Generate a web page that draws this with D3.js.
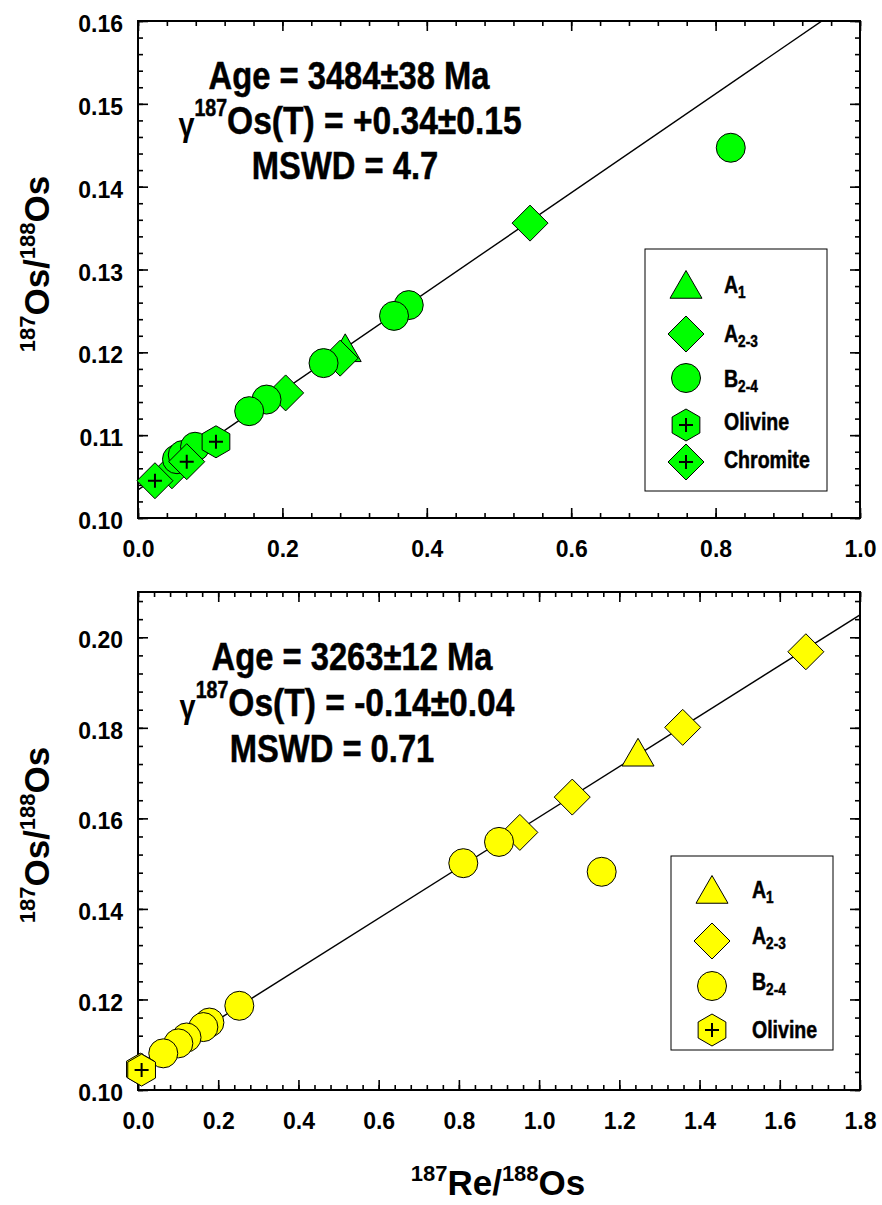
<!DOCTYPE html>
<html>
<head>
<meta charset="utf-8">
<script src="https://cdn.jsdelivr.net/npm/d3@7"></script>
<style>
  body { margin: 0; background: #fff; }
  svg { display: block; }
  text { font-family: "Liberation Sans", Arial, Helvetica, sans-serif; font-weight: bold; white-space: pre; }
</style>
</head>
<body>
<svg id="chart" width="882" height="1205"></svg>
<script>
// ---- Upper panel: 187Re/188Os vs 187Os/188Os, [x, y] pairs ----
const upperA1       = [[0.287, 0.1200]];
const upperA23      = [[0.543, 0.1356], [0.280, 0.1193], [0.2045, 0.1151], [0.047, 0.1057]];
const upperB24      = [[0.821, 0.1447], [0.375, 0.1257], [0.3546, 0.1244], [0.257, 0.1187],
                       [0.178, 0.1143], [0.154, 0.1129], [0.054, 0.1071], [0.062, 0.1076], [0.079, 0.1086]];
const upperOlivine  = [[0.108, 0.1092]];
const upperChromite = [[0.0235, 0.1045], [0.0675, 0.1068]];
const upperAgeMa    = 3484;     // isochron age
const upperInitial  = 0.1034;   // initial 187Os/188Os
const upperXTicks   = [0.0, 0.2, 0.4, 0.6, 0.8, 1.0];
const upperYTicks   = [0.10, 0.11, 0.12, 0.13, 0.14, 0.15, 0.16];

// ---- Lower panel ----
const lowerA1      = [[1.2466, 0.1736]];
const lowerA23     = [[1.665, 0.1968], [1.358, 0.1801], [1.0826, 0.1647], [0.952, 0.1569]];
const lowerB24     = [[0.900, 0.1548], [0.811, 0.1501], [1.156, 0.1482], [0.2526, 0.1186],
                      [0.178, 0.1149], [0.163, 0.1139], [0.121, 0.1116], [0.1006, 0.1103], [0.063, 0.1081]];
const lowerOlivine = [[0.006, 0.1046], [0.009, 0.1044]];
const lowerAgeMa   = 3263;
const lowerInitial = 0.1044;
const lowerXTicks  = [0.0, 0.2, 0.4, 0.6, 0.8, 1.0, 1.2, 1.4, 1.6, 1.8];
const lowerYTicks  = [0.10, 0.12, 0.14, 0.16, 0.18, 0.20];

// ---- Text ----
const upperAgeText   = "Age = 3484±38 Ma";
const upperGammaText = "Os(T) = +0.34±0.15";
const upperMswdText  = "MSWD = 4.7";
const lowerAgeText   = "Age = 3263±12 Ma";
const lowerGammaText = "Os(T) = -0.14±0.04";
const lowerMswdText  = "MSWD = 0.71";

const LAMBDA_RE187 = 1.666e-11; // per year

const svg = d3.select("#chart");
svg.append("rect").attr("width", 882).attr("height", 1205).attr("fill", "#fff");

const NARROW = 0.85;

// Lays out runs of text (with super/subscripts) one after another.
function richText(parent, runs, x, y, anchor = "middle", rotate = 0) {
  const g = parent.append("g").attr("transform", `translate(${x},${y}) rotate(${rotate})`);
  const inner = g.append("g");
  let cursor = 0;
  runs.forEach(r => {
    const sx = r.sx ?? 1;
    const t = inner.append("text")
      .attr("transform", `translate(${cursor},${r.dy || 0}) scale(${sx},1)`)
      .attr("font-size", r.size)
      .attr("font-weight", r.weight || "bold")
      .attr("fill", "#000")
      .text(r.t);
    // condensed runs get a hairline stroke to keep their weight
    if (sx < 1 && (r.weight || "bold") === "bold") t.attr("stroke", "#000").attr("stroke-width", 0.5);
    cursor += t.node().getComputedTextLength() * sx;
  });
  if (anchor === "middle") inner.attr("transform", `translate(${-cursor / 2},0)`);
  return g;
}

// Marker shapes
const shapes = {
  triangle: () => { const s = 32, h = s * Math.sqrt(3) / 2;
    return `M0,${-2 * h / 3}L${s / 2},${h / 3}L${-s / 2},${h / 3}Z`; },
  diamond: () => { const r = 18; return `M0,${-r}L${r},0L0,${r}L${-r},0Z`; },
  hexagon: () => { const R = 16; return d3.range(6).map(k => {
      const a = (-90 + 60 * k) * Math.PI / 180;
      return (k ? "L" : "M") + (R * Math.cos(a)).toFixed(2) + "," + (R * Math.sin(a)).toFixed(2);
    }).join("") + "Z"; }
};

function drawMarker(g, kind, cx, cy, fill) {
  const m = g.append("g").attr("transform", `translate(${cx},${cy})`);
  if (kind === "circle") {
    m.append("circle").attr("r", 14.5).attr("fill", fill).attr("stroke", "#000").attr("stroke-width", 1);
  } else {
    const shape = kind === "chromite" ? "diamond" : kind === "olivine" ? "hexagon" : kind;
    m.append("path").attr("d", shapes[shape]()).attr("fill", fill).attr("stroke", "#000").attr("stroke-width", 1);
    if (kind === "chromite" || kind === "olivine") {
      m.append("path").attr("d", "M-7,0H7M0,-7V7").attr("stroke", "#000").attr("stroke-width", 2);
    }
  }
}

function drawPanel(cfg) {
  const { top, bottom, left, right } = cfg;
  const x = d3.scaleLinear().domain(cfg.xDomain).range([left, right]);
  const y = d3.scaleLinear().domain(cfg.yDomain).range([bottom, top]);
  const g = svg.append("g");

  const clipId = "clip" + cfg.id;
  g.append("clipPath").attr("id", clipId)
    .append("rect").attr("x", left).attr("y", top).attr("width", right - left).attr("height", bottom - top);

  // Isochron line: slope = exp(lambda * t) - 1
  const slope = Math.expm1(LAMBDA_RE187 * cfg.ageMa * 1e6);
  const lineData = cfg.xDomain.map(v => [v, cfg.initial + slope * v]);
  g.append("path")
    .attr("clip-path", `url(#${clipId})`)
    .attr("d", d3.line().x(d => x(d[0])).y(d => y(d[1]))(lineData))
    .attr("fill", "none").attr("stroke", "#000").attr("stroke-width", 1.4);

  // Axes: ticks point inward on all four sides
  const xMinor = d3.range(cfg.xDomain[0], cfg.xDomain[1] + 1e-9, cfg.xMinorStep);
  const yMinor = d3.range(cfg.yDomain[0], cfg.yDomain[1] + 1e-9, cfg.yMinorStep);
  const styleAxis = sel => { sel.select(".domain").remove();
    sel.selectAll(".tick line").attr("stroke", "#000").attr("stroke-width", 1.6); };

  g.append("g").attr("transform", `translate(0,${bottom})`)
    .call(d3.axisBottom(x).tickValues(xMinor).tickSize(-5).tickFormat("")).call(styleAxis);
  g.append("g").attr("transform", `translate(0,${top})`)
    .call(d3.axisTop(x).tickValues(xMinor).tickSize(-5).tickFormat("")).call(styleAxis);
  g.append("g").attr("transform", `translate(${left},0)`)
    .call(d3.axisLeft(y).tickValues(yMinor).tickSize(-5).tickFormat("")).call(styleAxis);
  g.append("g").attr("transform", `translate(${right},0)`)
    .call(d3.axisRight(y).tickValues(yMinor).tickSize(-5).tickFormat("")).call(styleAxis);

  const xAx = g.append("g").attr("transform", `translate(0,${bottom})`)
    .call(d3.axisBottom(x).tickValues(cfg.xTicks).tickSize(-10).tickFormat(d3.format(".1f"))).call(styleAxis);
  xAx.selectAll("text").attr("y", 39).attr("dy", null)
    .attr("font-size", 23).attr("font-family", "Liberation Sans, Arial, sans-serif").attr("font-weight", "bold").attr("fill", "#000");
  g.append("g").attr("transform", `translate(0,${top})`)
    .call(d3.axisTop(x).tickValues(cfg.xTicks).tickSize(-10).tickFormat("")).call(styleAxis);

  const yAx = g.append("g").attr("transform", `translate(${left},0)`)
    .call(d3.axisLeft(y).tickValues(cfg.yTicks).tickSize(-10).tickFormat(d3.format(".2f"))).call(styleAxis);
  yAx.selectAll("text").attr("x", -15).attr("dy", "0.46em")
    .attr("font-size", 23).attr("font-family", "Liberation Sans, Arial, sans-serif").attr("font-weight", "bold").attr("fill", "#000");
  g.append("g").attr("transform", `translate(${right},0)`)
    .call(d3.axisRight(y).tickValues(cfg.yTicks).tickSize(-10).tickFormat("")).call(styleAxis);

  // Frame
  g.append("rect").attr("x", left).attr("y", top).attr("width", right - left).attr("height", bottom - top)
    .attr("fill", "none").attr("stroke", "#000").attr("stroke-width", 2);

  // Data points (drawn over the frame, as plotted symbols)
  const pts = g.append("g");
  cfg.series.forEach(s => s.data.forEach(d => drawMarker(pts, s.kind, x(d[0]), y(d[1]), cfg.fill)));

  // Y title
  richText(g, [
    { t: "187", size: 22, dy: -14 }, { t: "Os/", size: 35 },
    { t: "188", size: 22, dy: -14 }, { t: "Os", size: 35 }
  ], 49, cfg.yTitleY, "middle", -90);

  // Annotation block
  const n = cfg.notes;
  richText(g, [{ t: n.age, size: 38.5, sx: NARROW }], n.cx[0], n.by[0]);
  richText(g, [
    { t: "γ", size: 34, sx: NARROW, weight: "normal", dy: 2 },
    { t: "187", size: 23, sx: NARROW, dy: -18 },
    { t: n.gamma, size: 39.5, sx: NARROW }
  ], n.cx[1], n.by[1]);
  richText(g, [{ t: n.mswd, size: 38.5, sx: NARROW }], n.cx[2], n.by[2]);

  // Legend
  const L = cfg.legend;
  g.append("rect").attr("x", L.x0).attr("y", L.y0).attr("width", L.x1 - L.x0).attr("height", L.y1 - L.y0)
    .attr("fill", "#fff").attr("stroke", "#000").attr("stroke-width", 1);
  cfg.series.forEach((s, i) => {
    drawMarker(g, s.kind, L.sx, L.symY[i], cfg.fill);
    richText(g, s.label, L.tx, L.textY[i], "start");
  });
}

const lbl = (main, sub) => sub
  ? [{ t: main, size: 23, sx: NARROW }, { t: sub, size: 16, sx: NARROW, dy: 5 }]
  : [{ t: main, size: 23, sx: NARROW }];

drawPanel({
  id: "U", top: 21, bottom: 518, left: 138, right: 860,
  xDomain: [0, 1], yDomain: [0.10, 0.16], xMinorStep: 0.04, yMinorStep: 0.002,
  xTicks: upperXTicks, yTicks: upperYTicks,
  ageMa: upperAgeMa, initial: upperInitial, fill: "#00ff00",
  yTitleY: 264,
  notes: { age: upperAgeText, gamma: upperGammaText, mswd: upperMswdText, cx: [349, 350, 345], by: [89, 134, 179] },
  series: [
    { kind: "triangle", data: upperA1, label: lbl("A", "1") },
    { kind: "diamond", data: upperA23, label: lbl("A", "2-3") },
    { kind: "circle", data: upperB24, label: lbl("B", "2-4") },
    { kind: "olivine", data: upperOlivine, label: lbl("Olivine") },
    { kind: "chromite", data: upperChromite, label: lbl("Chromite") }
  ],
  legend: { x0: 645, x1: 827, y0: 249, y1: 491, sx: 686, tx: 724,
            symY: [289, 334, 378, 425, 462], textY: [293, 342, 387, 430, 468] }
});

drawPanel({
  id: "L", top: 592, bottom: 1090, left: 138, right: 860,
  xDomain: [0, 1.8], yDomain: [0.10, 0.21], xMinorStep: 0.04, yMinorStep: 0.004,
  xTicks: lowerXTicks, yTicks: lowerYTicks,
  ageMa: lowerAgeMa, initial: lowerInitial, fill: "#ffff00",
  yTitleY: 835,
  notes: { age: lowerAgeText, gamma: lowerGammaText, mswd: lowerMswdText, cx: [352, 347, 332], by: [670, 716, 762] },
  series: [
    { kind: "triangle", data: lowerA1, label: lbl("A", "1") },
    { kind: "diamond", data: lowerA23, label: lbl("A", "2-3") },
    { kind: "circle", data: lowerB24, label: lbl("B", "2-4") },
    { kind: "olivine", data: lowerOlivine, label: lbl("Olivine") }
  ],
  legend: { x0: 671, x1: 833, y0: 856, y1: 1050, sx: 712, tx: 752,
            symY: [894, 941, 986, 1030], textY: [898, 944, 990, 1038] }
});

// X title
richText(svg, [
  { t: "187", size: 22, dy: -14 }, { t: "Re/", size: 35 },
  { t: "188", size: 22, dy: -14 }, { t: "Os", size: 35 }
], 498, 1195, "middle");
</script>
</body>
</html>
